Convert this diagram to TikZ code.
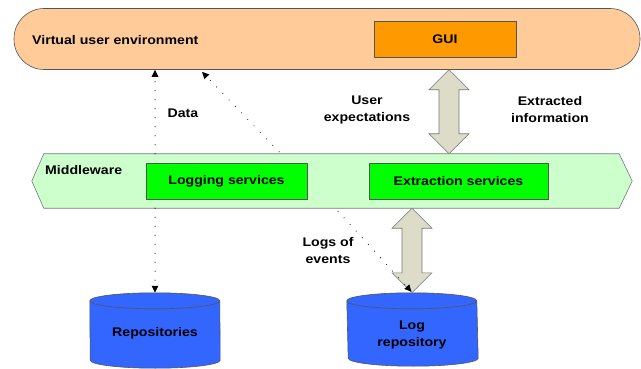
\documentclass[tikz,border=0pt]{standalone}
\usepackage{fontspec}
\setmainfont{Liberation Sans}[FakeStretch=1.13]
\usetikzlibrary{calc,arrows.meta}
\definecolor{peach}{HTML}{FFCC99}
\definecolor{guiorange}{HTML}{FF9900}
\definecolor{mwgreen}{HTML}{CCFFCC}
\definecolor{svcgreen}{HTML}{00FF00}
\definecolor{repoblue}{HTML}{3366FF}
\definecolor{arrowfill}{HTML}{DCDCC8}
\definecolor{edge}{HTML}{555555}
\begin{document}
\begin{tikzpicture}[x=1pt,y=-1pt,
  every node/.style={font=\fontsize{12.5}{17}\selectfont\bfseries, inner sep=0pt},
  txt/.style={align=center},
  env/.style={draw=edge, fill=peach, rounded corners=30pt, line width=0.6pt},
  guibox/.style={draw=edge, fill=guiorange, line width=0.6pt},
  svcbox/.style={draw=edge, fill=svcgreen, line width=0.6pt},
  mwshape/.style={draw=edge!80, fill=mwgreen, line width=0.6pt},
  cyl/.style={draw=edge, fill=repoblue, line width=0.6pt},
  bigarrow/.style={draw=edge!80, fill=arrowfill, line width=0.6pt},
  dotted arrow/.style={line width=1.1pt, dash pattern=on 0pt off 9pt, line cap=round,
    -{Triangle[length=7pt,width=6.5pt]}},
]
\useasboundingbox (0,0) rectangle (641,369);

% virtual user environment band
\node[env, minimum width=626pt, minimum height=61pt] (vue) at (327,39) {};
\node[anchor=west] (vuelabel) at (32,40) {Virtual user environment};
\node[guibox, minimum width=142pt, minimum height=36pt] (gui) at (445,39) {GUI};

% middleware band (double-ended arrow outline)
\node[minimum width=600pt, minimum height=54pt] (mw) at (332,181) {};
\draw[mwshape] (mw.west) -- ($(mw.north west)+(12,0)$) -- ($(mw.north east)+(-13,0)$)
  -- (mw.east) -- ($(mw.south east)+(-13,0)$) -- ($(mw.south west)+(12,0)$) -- cycle;
\node[anchor=west] (mwlabel) at (45,170) {Middleware};
\node[svcbox, minimum width=161pt, minimum height=36pt] (logsvc) at (226.5,181) {Logging services};
\node[svcbox, minimum width=179pt, minimum height=36pt] (extsvc) at (458.5,181) {Extraction services};

% repositories (cylinders)
\node[minimum width=130pt, minimum height=75pt] (repo) at (155,330.5) {};
\node[minimum width=131pt, minimum height=73pt] (logrepo) at (412.5,329.5) {};
\foreach \c in {repo,logrepo}{
  \draw[cyl] ($(\c.north west)+(0,8)$) arc[start angle=180,end angle=0,x radius=65pt,y radius=8pt]
    -- ($(\c.south east)+(0,-8)$) arc[start angle=0,end angle=-180,x radius=65pt,y radius=8pt]
    -- cycle;
  \draw[cyl, fill=none] ($(\c.north west)+(0,8)$) arc[start angle=180,end angle=360,x radius=65pt,y radius=8pt];
}
\node[txt] (repotext) at (155,333) {Repositories};
\node[txt] (logrepotext) at (412,335) {Log\\repository};

% exchange arrows between the layers
\coordinate (a1) at (449,0);
\coordinate (a2) at (412,0);
\foreach \t/\b in {{vue.south -| a1}/{mw.north -| a1}, {mw.south -| a2}/{logrepo.north -| a2}}{
  \draw[bigarrow] (\t) -- ($(\t)+(20,20)$) -- ($(\t)+(10,20)$) -- ($(\b)+(10,-20)$)
    -- ($(\b)+(20,-20)$) -- (\b) -- ($(\b)+(-20,-20)$) -- ($(\b)+(-10,-20)$)
    -- ($(\t)+(-10,20)$) -- ($(\t)+(-20,20)$) -- cycle;
}

% data flows
\coordinate (d1) at (155,0);
\coordinate (d2) at (279,0);
\coordinate (d3) at (202,0);
\coordinate (d4) at (338,0);
\draw[dotted arrow] (mw.north -| d1) -- (vue.south -| d1);
\draw[dotted arrow] ($(mw.north -| d2)+(0,-2)$) -- ($(vue.south -| d3)+(0,2)$);
\draw[dotted arrow] (mw.south -| d1) -- (repo.north);
\draw[dotted arrow] ($(mw.south -| d4)+(0,3)$) -- ($(logrepo.north)+(-1,-1)$);

% flow labels
\node[txt] (datalabel) at (183,113) {Data};
\node[txt] (userexp) at (367,110) {User\\expectations};
\node[txt] (extinfo) at (550,110) {Extracted\\information};
\node[txt] (logsev) at (328,251) {Logs of\\events};
\end{tikzpicture}
\end{document}
